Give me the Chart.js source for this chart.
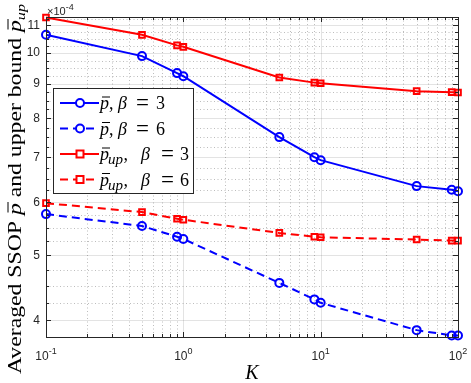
<!DOCTYPE html>
<html>
<head>
<meta charset="utf-8">
<script src="https://cdn.jsdelivr.net/npm/chart.js@4.4.1/dist/chart.umd.min.js"></script>
<style>
  html, body { margin: 0; padding: 0; background: #fff; }
</style>
</head>
<body>
<canvas id="myChart" width="471" height="383"></canvas>
<script>
// values, y in units of 1e-4
const kValues = [0.1, 0.5, 0.9, 1, 5, 9, 10, 50, 90, 100];
const pBeta3 = [10.65, 9.9, 9.34, 9.24, 7.5, 7.0, 6.93, 6.34, 6.26, 6.23];
const pBeta6 = [5.76, 5.53, 5.33, 5.29, 4.55, 4.30, 4.25, 3.87, 3.80, 3.80];
const pUpBeta3 = [11.3, 10.65, 10.27, 10.22, 9.2, 9.04, 9.02, 8.78, 8.75, 8.74];
const pUpBeta6 = [5.98, 5.8, 5.67, 5.65, 5.4, 5.33, 5.32, 5.28, 5.26, 5.26];

const xTicks = [0.1, 1, 10, 100];
const xTickExp = ['-1', '0', '1', '2'];
const yTicks = [4, 5, 6, 7, 8, 9, 10, 11];
const betaValues = ['3', '6', '3', '6'];

const serif = '"Liberation Serif", "DejaVu Serif", serif';
const sans = '"Liberation Sans", Arial, sans-serif';
const axisColor = '#262626';

function pts(ys) {
  return kValues.map((k, i) => ({ x: k, y: ys[i] }));
}

function series(label, ys, color, dashed, marker) {
  return {
    label: label,
    data: pts(ys),
    borderColor: color,
    backgroundColor: 'rgba(0,0,0,0)',
    borderWidth: 2,
    borderDash: dashed ? [8, 5] : [],
    pointStyle: marker,
    pointRadius: 4,
    pointBorderWidth: 2,
    pointBorderColor: color,
    pointBackgroundColor: 'rgba(0,0,0,0)',
    tension: 0,
    clip: false
  };
}

// draw text pieces one after another: t, f (font), dy, bar (overline), at (fixed x)
function drawRuns(ctx, runs, x, y) {
  for (const r of runs) {
    ctx.font = r.f;
    if (r.at !== undefined) x = r.at;
    ctx.fillText(r.t, x, y + (r.dy || 0));
    const w = ctx.measureText(r.t).width;
    if (r.bar) {
      ctx.save();
      ctx.lineWidth = 1;
      ctx.beginPath();
      ctx.moveTo(x + 2, y - r.bar);
      ctx.lineTo(x + w + 1, y - r.bar);
      ctx.strokeStyle = ctx.fillStyle;
      ctx.stroke();
      ctx.restore();
    }
    x += w + (r.sp || 0);
  }
  return x;
}
function runsWidth(ctx, runs) {
  let w = 0;
  for (const r of runs) { ctx.font = r.f; w += ctx.measureText(r.t).width + (r.sp || 0); }
  return w;
}

const gridPlugin = {
  id: 'matlabGrid',
  beforeDatasetsDraw(chart) {
    const ctx = chart.ctx, a = chart.chartArea;
    const xs = chart.scales.x, ys = chart.scales.y;
    ctx.save();
    // minor dotted grid
    ctx.strokeStyle = 'rgba(38,38,38,0.3)';
    ctx.lineWidth = 1;
    ctx.setLineDash([1, 2.5]);
    ctx.beginPath();
    for (const d of [0.1, 1, 10]) {
      for (let m = 2; m <= 9; m++) {
        const px = Math.round(xs.getPixelForValue(d * m)) + 0.5;
        ctx.moveTo(px, a.top); ctx.lineTo(px, a.bottom);
      }
    }
    for (let v = 3.75; v < 11.5; v += 0.25) {
      if (Number.isInteger(v) || v < ys.min || v > ys.max) continue;
      const py = Math.round(ys.getPixelForValue(v)) + 0.5;
      ctx.moveTo(a.left, py); ctx.lineTo(a.right, py);
    }
    ctx.stroke();
    // major solid grid
    ctx.setLineDash([]);
    ctx.strokeStyle = 'rgba(38,38,38,0.13)';
    ctx.beginPath();
    for (const v of xTicks) {
      const px = Math.round(xs.getPixelForValue(v)) + 0.5;
      ctx.moveTo(px, a.top); ctx.lineTo(px, a.bottom);
    }
    for (const v of yTicks) {
      const py = Math.round(ys.getPixelForValue(v)) + 0.5;
      ctx.moveTo(a.left, py); ctx.lineTo(a.right, py);
    }
    ctx.stroke();
    ctx.restore();
  },
  afterDraw(chart) {
    const ctx = chart.ctx, a = chart.chartArea;
    const xs = chart.scales.x, ys = chart.scales.y;
    ctx.save();
    // axes box
    ctx.strokeStyle = axisColor;
    ctx.lineWidth = 1;
    ctx.strokeRect(Math.round(a.left) + 0.5, Math.round(a.top) + 0.5,
      Math.round(a.right - a.left), Math.round(a.bottom - a.top));
    // tick marks, inward on all sides
    ctx.beginPath();
    const xTick = (v, len) => {
      const px = Math.round(xs.getPixelForValue(v)) + 0.5;
      ctx.moveTo(px, a.bottom); ctx.lineTo(px, a.bottom - len);
      ctx.moveTo(px, a.top); ctx.lineTo(px, a.top + len);
    };
    const yTick = (v, len) => {
      const py = Math.round(ys.getPixelForValue(v)) + 0.5;
      ctx.moveTo(a.left, py); ctx.lineTo(a.left + len, py);
      ctx.moveTo(a.right, py); ctx.lineTo(a.right - len, py);
    };
    for (const v of xTicks) xTick(v, 5);
    for (const d of [0.1, 1, 10]) for (let m = 2; m <= 9; m++) xTick(d * m, 3);
    for (const v of yTicks) yTick(v, 5);
    for (let v = 3.75; v < 11.5; v += 0.25) {
      if (Number.isInteger(v) || v < ys.min || v > ys.max) continue;
      yTick(v, 3);
    }
    ctx.stroke();

    // x tick labels 10^n
    ctx.fillStyle = axisColor;
    ctx.textBaseline = 'alphabetic';
    ctx.textAlign = 'left';
    xTicks.forEach((v, i) => {
      const runs = [
        { t: '10', f: '12px ' + sans },
        { t: xTickExp[i], f: '9px ' + sans, dy: -6 }
      ];
      const w = runsWidth(ctx, runs);
      const px = xs.getPixelForValue(v);
      drawRuns(ctx, runs, px - w / 2, 360);
    });

    // exponent label
    drawRuns(ctx, [
      { t: '\u00d710', f: '11px ' + sans },
      { t: '-4', f: '9px ' + sans, dy: -5 }
    ], a.left + 1, 15);

    // x title
    ctx.fillStyle = '#000';
    ctx.font = 'italic 20px ' + serif;
    ctx.textAlign = 'center';
    ctx.fillText('K', (a.left + a.right) / 2, 379);

    // y title, stretched to the width of the original LaTeX text
    ctx.textAlign = 'left';
    const rf = '19px ' + serif, itf = 'italic 19px ' + serif;
    const yRuns = [
      { t: 'Averaged SSOP ', f: rf },
      { t: 'p', f: itf, bar: 13 },
      { t: ' and upper bound ', f: rf },
      { t: 'p', f: itf, bar: 13 },
      { t: 'up', f: 'italic 13px ' + serif, dy: 4 }
    ];
    const tw = runsWidth(ctx, yRuns);
    ctx.save();
    ctx.translate(21, 189);
    ctx.rotate(-Math.PI / 2);
    ctx.scale(370 / tw, 1);
    drawRuns(ctx, yRuns, -tw / 2, 0);
    ctx.restore();

    // legend box
    const lx = 53, ly = 88, lw = 140, lh = 105;
    ctx.fillStyle = '#fff';
    ctx.fillRect(lx, ly, lw, lh);
    ctx.strokeStyle = axisColor;
    ctx.lineWidth = 1;
    ctx.strokeRect(lx + 0.5, ly + 0.5, lw, lh);
    const rows = [103, 128.5, 154, 179.5];
    chart.data.datasets.forEach((ds, i) => {
      const y = rows[i];
      ctx.save();
      ctx.strokeStyle = ds.borderColor;
      ctx.lineWidth = 2;
      ctx.setLineDash(ds.borderDash);
      ctx.beginPath();
      ctx.moveTo(60, y); ctx.lineTo(99, y);
      ctx.stroke();
      ctx.setLineDash([]);
      ctx.beginPath();
      if (ds.pointStyle === 'circle') {
        ctx.arc(80, y, 4, 0, Math.PI * 2);
      } else {
        ctx.rect(76.5, y - 3.5, 7, 7);
      }
      ctx.fillStyle = '#fff';
      ctx.fill();
      ctx.stroke();
      ctx.restore();
      ctx.fillStyle = '#000';
      const it = 'italic 18px ' + serif, ro = '18px ' + serif;
      const up = i >= 2;
      const runs = [{ t: 'p', f: it, bar: 12, at: 100 }];
      if (up) runs.push({ t: 'up', f: 'italic 15px ' + serif, dy: 4, at: 108, sp: 0.5 });
      runs.push({ t: ',', f: ro, at: up ? undefined : 109 });
      runs.push({ t: '\u03b2', f: it, at: up ? 141 : 118 });
      runs.push({ t: '=', f: '23px ' + serif, at: up ? 161 : 136, dy: 1 });
      runs.push({ t: betaValues[i], f: ro, at: up ? 180 : 156 });
      drawRuns(ctx, runs, 101, y + 6);
    });
    ctx.restore();
  }
};

const datasets = [
  series('p, beta = 3', pBeta3, '#0000ff', false, 'circle'),
  series('p, beta = 6', pBeta6, '#0000ff', true, 'circle'),
  series('p_up, beta = 3', pUpBeta3, '#ff0000', false, 'rect'),
  series('p_up, beta = 6', pUpBeta6, '#ff0000', true, 'rect')
];

const ctx = document.getElementById('myChart');
new Chart(ctx, {
  type: 'line',
  data: { datasets: datasets },
  options: {
    responsive: false,
    animation: false,
    devicePixelRatio: 1,
    layout: { padding: { left: 0, top: 17, right: 13, bottom: 0 } },
    plugins: { legend: { display: false }, tooltip: { enabled: false } },
    scales: {
      x: {
        type: 'logarithmic',
        min: 0.1,
        max: 100,
        grid: { display: false },
        border: { display: false },
        ticks: { display: false },
        afterFit(s) { s.height = 46; }
      },
      y: {
        type: 'logarithmic',
        min: 3.78,
        max: 11.32,
        grid: { display: false, drawTicks: false },
        border: { display: false },
        afterBuildTicks(s) { s.ticks = yTicks.map(v => ({ value: v })); },
        ticks: {
          padding: 6,
          color: axisColor,
          font: { family: sans, size: 12 },
          callback: v => String(v)
        },
        afterFit(s) { s.width = 46; }
      }
    }
  },
  plugins: [gridPlugin]
});
</script>
</body>
</html>
